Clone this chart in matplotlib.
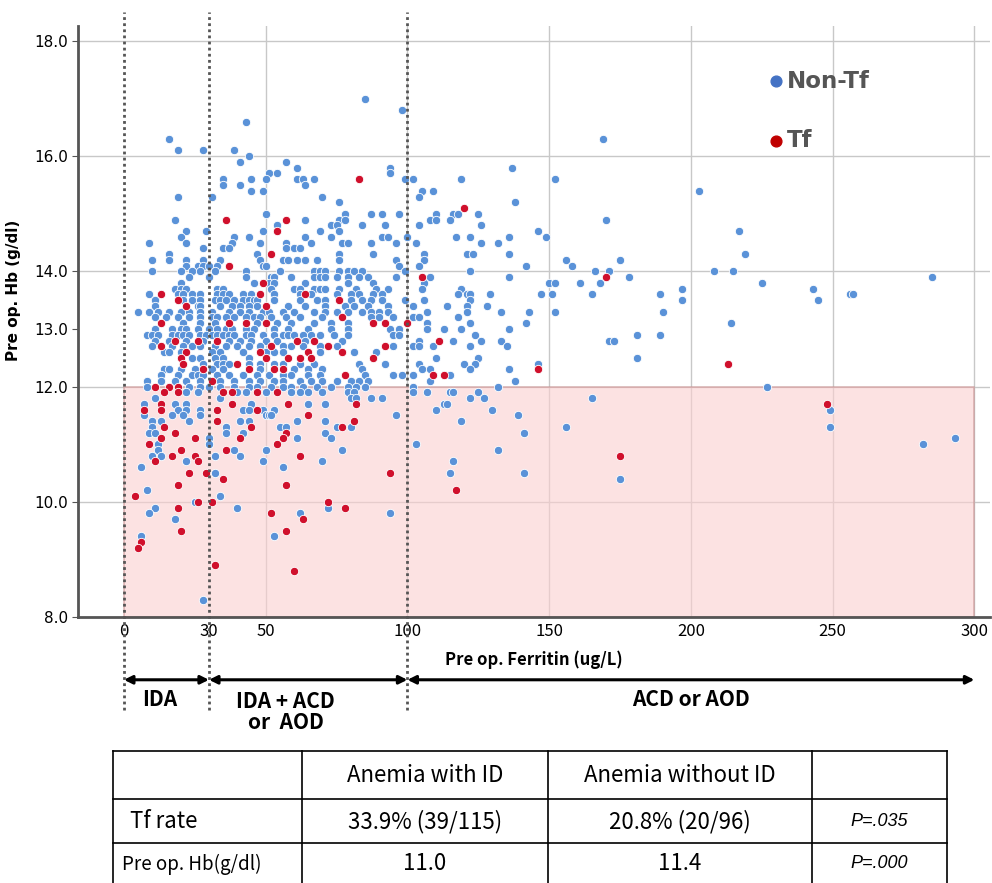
import numpy as np
import matplotlib
matplotlib.use("Agg")
import matplotlib.pyplot as plt

# Non-Tf patients: (pre op ferritin, pre op Hb)
non_tf = [
    (85, 17.0), (98, 16.8), (43, 16.6), (16, 16.3), (169, 16.3),
    (19, 16.1), (28, 16.1), (39, 16.1), (44, 16.0), (41, 15.9), (57, 15.9),
    (61, 15.8), (94, 15.8), (137, 15.8), (51, 15.7), (54, 15.7), (94, 15.7),
    (35, 15.6), (45, 15.6), (50, 15.6), (61, 15.6), (63, 15.6), (67, 15.6), (99, 15.6), (102, 15.6), (119, 15.6), (152, 15.6),
    (35, 15.5), (41, 15.5), (64, 15.5),
    (45, 15.4), (49, 15.4), (105, 15.4), (109, 15.4), (203, 15.4),
    (19, 15.3), (31, 15.3), (70, 15.3), (104, 15.3), (76, 15.2), (138, 15.2),
    (50, 15.0), (78, 15.0), (87, 15.0), (91, 15.0), (97, 15.0), (110, 15.0), (116, 15.0), (118, 15.0), (125, 15.0),
    (18, 14.9), (64, 14.9), (76, 14.9), (78, 14.9), (108, 14.9), (110, 14.9), (115, 14.9), (170, 14.9),
    (54, 14.8), (73, 14.8), (75, 14.8), (84, 14.8), (92, 14.8), (104, 14.8), (126, 14.8),
    (22, 14.7), (29, 14.7), (49, 14.7), (69, 14.7), (76, 14.7), (146, 14.7), (217, 14.7),
    (20, 14.6), (39, 14.6), (44, 14.6), (64, 14.6), (73, 14.6), (91, 14.6), (93, 14.6), (100, 14.6), (117, 14.6), (122, 14.6), (136, 14.6), (149, 14.6),
    (9, 14.5), (22, 14.5), (38, 14.5), (48, 14.5), (57, 14.5), (66, 14.5), (77, 14.5), (79, 14.5), (87, 14.5), (96, 14.5), (103, 14.5), (126, 14.5), (132, 14.5),
    (28, 14.4), (35, 14.4), (37, 14.4), (57, 14.4), (60, 14.4), (62, 14.4),
    (16, 14.3), (47, 14.3), (76, 14.3), (88, 14.3), (106, 14.3), (121, 14.3), (123, 14.3), (136, 14.3), (219, 14.3),
    (10, 14.2), (16, 14.2), (22, 14.2), (28, 14.2), (34, 14.2), (48, 14.2), (56, 14.2), (58, 14.2), (61, 14.2), (64, 14.2), (68, 14.2), (76, 14.2), (96, 14.2), (106, 14.2), (156, 14.2), (175, 14.2),
    (22, 14.1), (26, 14.1), (28, 14.1), (30, 14.1), (33, 14.1), (49, 14.1), (50, 14.1), (97, 14.1), (104, 14.1), (142, 14.1), (158, 14.1),
    (10, 14.0), (20, 14.0), (24, 14.0), (27, 14.0), (32, 14.0), (43, 14.0), (55, 14.0), (67, 14.0), (69, 14.0), (71, 14.0), (76, 14.0), (79, 14.0), (81, 14.0), (84, 14.0), (99, 14.0), (122, 14.0), (166, 14.0), (171, 14.0), (208, 14.0), (215, 14.0),
    (23, 13.9), (30, 13.9), (43, 13.9), (52, 13.9), (53, 13.9), (59, 13.9), (67, 13.9), (69, 13.9), (71, 13.9), (75, 13.9), (79, 13.9), (83, 13.9), (86, 13.9), (96, 13.9), (108, 13.9), (136, 13.9), (178, 13.9), (285, 13.9),
    (20, 13.8), (46, 13.8), (51, 13.8), (53, 13.8), (64, 13.8), (79, 13.8), (88, 13.8), (106, 13.8), (150, 13.8), (152, 13.8), (161, 13.8), (168, 13.8), (225, 13.8),
    (18, 13.7), (20, 13.7), (22, 13.7), (33, 13.7), (35, 13.7), (52, 13.7), (60, 13.7), (62, 13.7), (67, 13.7), (69, 13.7), (71, 13.7), (76, 13.7), (82, 13.7), (89, 13.7), (93, 13.7), (105, 13.7), (119, 13.7), (197, 13.7), (243, 13.7),
    (9, 13.6), (19, 13.6), (21, 13.6), (24, 13.6), (27, 13.6), (33, 13.6), (35, 13.6), (37, 13.6), (42, 13.6), (45, 13.6), (53, 13.6), (62, 13.6), (66, 13.6), (75, 13.6), (80, 13.6), (83, 13.6), (88, 13.6), (91, 13.6),
    (118, 13.6), (121, 13.6), (122, 13.6), (129, 13.6), (147, 13.6), (151, 13.6), (165, 13.6), (189, 13.6), (256, 13.6), (257, 13.6),
    (11, 13.5), (21, 13.5), (24, 13.5), (27, 13.5), (32, 13.5), (34, 13.5), (36, 13.5), (39, 13.5), (42, 13.5), (44, 13.5), (46, 13.5), (47, 13.5), (53, 13.5), (62, 13.5), (68, 13.5), (71, 13.5),
    (80, 13.5), (84, 13.5), (87, 13.5), (91, 13.5), (99, 13.5), (106, 13.5), (122, 13.5), (197, 13.5), (245, 13.5),
    (11, 13.4), (26, 13.4), (27, 13.4), (34, 13.4), (38, 13.4), (41, 13.4), (44, 13.4), (47, 13.4), (50, 13.4), (58, 13.4), (64, 13.4), (71, 13.4), (78, 13.4), (81, 13.4), (86, 13.4), (93, 13.4),
    (102, 13.4), (114, 13.4), (121, 13.4), (128, 13.4),
    (5, 13.3), (9, 13.3), (12, 13.3), (16, 13.3), (20, 13.3), (23, 13.3), (27, 13.3), (31, 13.3), (37, 13.3), (41, 13.3), (44, 13.3), (49, 13.3), (51, 13.3), (56, 13.3), (60, 13.3), (67, 13.3),
    (71, 13.3), (75, 13.3), (79, 13.3), (84, 13.3), (87, 13.3), (90, 13.3), (93, 13.3), (107, 13.3), (121, 13.3), (133, 13.3), (143, 13.3), (152, 13.3), (190, 13.3),
    (11, 13.2), (15, 13.2), (19, 13.2), (23, 13.2), (27, 13.2), (31, 13.2), (33, 13.2), (36, 13.2), (39, 13.2), (43, 13.2), (46, 13.2), (48, 13.2), (52, 13.2), (57, 13.2), (62, 13.2), (70, 13.2),
    (87, 13.2), (90, 13.2), (95, 13.2), (102, 13.2), (104, 13.2), (118, 13.2),
    (21, 13.1), (27, 13.1), (32, 13.1), (47, 13.1), (54, 13.1), (59, 13.1), (67, 13.1), (73, 13.1), (79, 13.1), (107, 13.1), (122, 13.1), (142, 13.1), (214, 13.1),
    (11, 13.0), (17, 13.0), (20, 13.0), (22, 13.0), (26, 13.0), (30, 13.0), (33, 13.0), (36, 13.0), (38, 13.0), (43, 13.0), (46, 13.0), (53, 13.0), (58, 13.0), (65, 13.0), (73, 13.0), (79, 13.0),
    (94, 13.0), (97, 13.0), (107, 13.0), (113, 13.0), (119, 13.0), (136, 13.0),
    (8, 12.9), (10, 12.9), (12, 12.9), (17, 12.9), (19, 12.9), (21, 12.9), (23, 12.9), (27, 12.9), (29, 12.9), (31, 12.9), (33, 12.9), (35, 12.9), (37, 12.9), (39, 12.9), (43, 12.9), (45, 12.9),
    (49, 12.9), (53, 12.9), (56, 12.9), (58, 12.9), (60, 12.9), (63, 12.9), (66, 12.9), (69, 12.9), (74, 12.9), (79, 12.9), (95, 12.9), (97, 12.9), (124, 12.9), (181, 12.9), (189, 12.9),
    (11, 12.8), (16, 12.8), (22, 12.8), (28, 12.8), (37, 12.8), (41, 12.8), (45, 12.8), (50, 12.8), (54, 12.8), (64, 12.8), (77, 12.8), (104, 12.8), (116, 12.8), (126, 12.8), (133, 12.8), (171, 12.8), (173, 12.8),
    (10, 12.7), (17, 12.7), (21, 12.7), (24, 12.7), (27, 12.7), (32, 12.7), (36, 12.7), (40, 12.7), (44, 12.7), (48, 12.7), (56, 12.7), (59, 12.7), (63, 12.7), (69, 12.7), (75, 12.7), (95, 12.7),
    (102, 12.7), (104, 12.7), (109, 12.7), (122, 12.7), (135, 12.7),
    (14, 12.6), (16, 12.6), (20, 12.6), (31, 12.6), (34, 12.6), (42, 12.6), (50, 12.6), (53, 12.6), (56, 12.6), (69, 12.6), (81, 12.6), (89, 12.6),
    (24, 12.5), (27, 12.5), (32, 12.5), (35, 12.5), (44, 12.5), (110, 12.5), (125, 12.5), (181, 12.5),
    (28, 12.4), (33, 12.4), (35, 12.4), (37, 12.4), (44, 12.4), (48, 12.4), (53, 12.4), (56, 12.4), (62, 12.4), (67, 12.4), (83, 12.4), (92, 12.4), (104, 12.4), (120, 12.4), (124, 12.4), (146, 12.4),
    (14, 12.3), (16, 12.3), (20, 12.3), (25, 12.3), (31, 12.3), (35, 12.3), (48, 12.3), (60, 12.3), (65, 12.3), (70, 12.3), (84, 12.3), (105, 12.3), (108, 12.3), (122, 12.3), (136, 12.3),
    (13, 12.2), (19, 12.2), (24, 12.2), (26, 12.2), (28, 12.2), (33, 12.2), (37, 12.2), (42, 12.2), (47, 12.2), (51, 12.2), (56, 12.2), (59, 12.2), (65, 12.2), (69, 12.2), (85, 12.2), (95, 12.2),
    (98, 12.2), (102, 12.2), (115, 12.2),
    (8, 12.1), (13, 12.1), (18, 12.1), (22, 12.1), (27, 12.1), (34, 12.1), (39, 12.1), (44, 12.1), (48, 12.1), (53, 12.1), (56, 12.1), (62, 12.1), (66, 12.1), (70, 12.1), (75, 12.1), (80, 12.1),
    (83, 12.1), (86, 12.1), (108, 12.1), (138, 12.1),
    (8, 12.0), (23, 12.0), (27, 12.0), (30, 12.0), (34, 12.0), (39, 12.0), (44, 12.0), (47, 12.0), (52, 12.0), (56, 12.0), (59, 12.0), (63, 12.0), (68, 12.0), (73, 12.0), (79, 12.0), (82, 12.0),
    (85, 12.0), (102, 12.0), (132, 12.0), (227, 12.0),
    (22, 11.9), (26, 11.9), (40, 11.9), (43, 11.9), (50, 11.9), (59, 11.9), (62, 11.9), (65, 11.9), (70, 11.9), (79, 11.9), (81, 11.9), (102, 11.9), (107, 11.9), (115, 11.9), (116, 11.9), (125, 11.9),
    (11, 11.8), (34, 11.8), (80, 11.8), (82, 11.8), (87, 11.8), (91, 11.8), (122, 11.8), (127, 11.8), (165, 11.8),
    (7, 11.7), (18, 11.7), (22, 11.7), (45, 11.7), (65, 11.7), (71, 11.7), (113, 11.7), (114, 11.7),
    (19, 11.6), (22, 11.6), (27, 11.6), (42, 11.6), (44, 11.6), (49, 11.6), (53, 11.6), (110, 11.6), (130, 11.6), (249, 11.6),
    (7, 11.5), (17, 11.5), (21, 11.5), (27, 11.5), (50, 11.5), (51, 11.5), (52, 11.5), (96, 11.5), (139, 11.5),
    (10, 11.4), (13, 11.4), (23, 11.4), (41, 11.4), (44, 11.4), (61, 11.4), (71, 11.4), (119, 11.4),
    (10, 11.3), (36, 11.3), (55, 11.3), (57, 11.3), (75, 11.3), (80, 11.3), (156, 11.3), (249, 11.3),
    (9, 11.2), (11, 11.2), (36, 11.2), (42, 11.2), (71, 11.2), (141, 11.2),
    (30, 11.1), (61, 11.1), (73, 11.1), (293, 11.1),
    (12, 11.0), (30, 11.0), (103, 11.0), (282, 11.0),
    (12, 10.9), (39, 10.9), (50, 10.9), (77, 10.9), (132, 10.9),
    (10, 10.8), (13, 10.8), (32, 10.8), (41, 10.8),
    (22, 10.7), (49, 10.7), (70, 10.7), (116, 10.7),
    (6, 10.6), (56, 10.6), (32, 10.5), (115, 10.5), (141, 10.5), (175, 10.4),
    (8, 10.2), (34, 10.1), (25, 10.0), (11, 9.9), (40, 9.9), (72, 9.9),
    (9, 9.8), (62, 9.8), (94, 9.8), (18, 9.7), (6, 9.4), (53, 9.4), (28, 8.3),
]

# Tf patients
tf = [
    (83, 15.6), (120, 15.1), (36, 14.9), (57, 14.9), (54, 14.7), (52, 14.3), (37, 14.1),
    (105, 13.9), (170, 13.9), (49, 13.8), (13, 13.6), (48, 13.6), (64, 13.6),
    (19, 13.5), (76, 13.5), (22, 13.4), (50, 13.4), (77, 13.2),
    (13, 13.1), (37, 13.1), (43, 13.1), (50, 13.1), (88, 13.1), (92, 13.1), (100, 13.1),
    (18, 12.8), (26, 12.8), (33, 12.8), (61, 12.8), (67, 12.8), (111, 12.8),
    (13, 12.7), (52, 12.7), (72, 12.7), (92, 12.7),
    (22, 12.6), (48, 12.6), (65, 12.6), (77, 12.6),
    (20, 12.5), (50, 12.5), (58, 12.5), (62, 12.5), (66, 12.5), (88, 12.5),
    (21, 12.4), (40, 12.4), (213, 12.4), (28, 12.3), (44, 12.3), (53, 12.3), (56, 12.3), (146, 12.3),
    (78, 12.2), (109, 12.2), (113, 12.2), (31, 12.1),
    (11, 12.0), (16, 12.0), (19, 12.0),
    (14, 11.9), (19, 11.9), (35, 11.9), (38, 11.9), (47, 11.9), (54, 11.9),
    (13, 11.7), (38, 11.7), (58, 11.7), (82, 11.7), (248, 11.7),
    (7, 11.6), (13, 11.6), (33, 11.6), (47, 11.6), (65, 11.5), (33, 11.4), (81, 11.4),
    (14, 11.3), (45, 11.3), (77, 11.3), (18, 11.2), (57, 11.2),
    (13, 11.1), (25, 11.1), (41, 11.1), (56, 11.1), (9, 11.0), (54, 11.0),
    (20, 10.9), (36, 10.9), (17, 10.8), (25, 10.8), (62, 10.8), (175, 10.8),
    (11, 10.7), (26, 10.7), (23, 10.5), (29, 10.5), (94, 10.5), (35, 10.4),
    (19, 10.3), (57, 10.3), (117, 10.2), (4, 10.1),
    (26, 10.0), (31, 10.0), (72, 10.0), (19, 9.9), (78, 9.9), (52, 9.8), (63, 9.7),
    (20, 9.5), (57, 9.5), (6, 9.3), (5, 9.2), (32, 8.9), (60, 8.8),
]

x_ticks = [0, 30, 50, 100, 150, 200, 250, 300]
y_ticks = [8, 10, 12, 13, 14, 16, 18]
cutoffs = [0, 30, 100]
regions = [(0, 30, "IDA"), (30, 100, "IDA + ACD\nor  AOD"), (100, 300, "ACD or AOD")]

table_header = ["", "Anemia with ID", "Anemia without ID", ""]
table_rows = [
    ["Tf rate", "33.9% (39/115)", "20.8% (20/96)", "P=.035"],
    ["Pre op. Hb(g/dl)", "11.0", "11.4", "P=.000"],
]

kr = ["Noto Sans CJK KR", "DejaVu Sans"]

blue = "#5a92d8"
red = "#d0102c"
dark = "#555555"

fig = plt.figure(figsize=(9.92, 8.83), dpi=100)
W, H = 992, 883
ax = fig.add_axes([78 / W, 1 - 617 / H, (990 - 78) / W, (617 - 26) / H])

ax.set_xlim(-16.2, 305.5)
ax.set_ylim(8.0, 18.26)

# anemia band
ax.axhspan(8, 12, xmin=(0 + 16.2) / 321.7, xmax=(300 + 16.2) / 321.7,
           facecolor="#fbd0d0", edgecolor="#c98f8f", lw=1.2, alpha=0.6, zorder=1)

for g in [10, 12, 14, 16, 18]:
    ax.axhline(g, color="#c8c8c8", lw=1.0, zorder=0.5)
for g in [50, 100, 150, 200, 250, 300]:
    ax.axvline(g, color="#c8c8c8", lw=1.0, zorder=0.5)

nt = np.array(non_tf)
t = np.array(tf)
ax.scatter(nt[:, 0], nt[:, 1], s=36, c=blue, edgecolors="white", linewidths=0.6, zorder=3)
ax.scatter(t[:, 0], t[:, 1], s=36, c=red, edgecolors="white", linewidths=0.6, zorder=4)

for s in ["top", "right"]:
    ax.spines[s].set_visible(False)
for s in ["left", "bottom"]:
    ax.spines[s].set_color(dark)
    ax.spines[s].set_linewidth(2)

ax.set_xticks(x_ticks)
ax.set_xticklabels([str(v) for v in x_ticks], fontsize=12, family=kr)
ax.set_yticks(y_ticks)
ax.set_yticklabels([f"{v:.1f}" for v in y_ticks], fontsize=11)
ax.tick_params(axis="x", length=0, pad=4)
ax.tick_params(axis="y", length=4, color=dark, pad=3)

ax.set_xlabel("Pre op. Ferritin (ug/L)", fontsize=12, fontweight="bold", family=kr, labelpad=8)
ax.set_ylabel("Pre op. Hb (g/dl)", fontsize=11, fontweight="bold")
ax.yaxis.set_label_coords(-0.063, 0.553)

# legend
ax.scatter([230], [17.3], s=60, c="#4472c4", zorder=5, clip_on=False)
ax.text(234, 17.3, "Non-Tf", fontsize=16.5, fontweight="bold", color=dark, va="center")
ax.scatter([230], [16.27], s=60, c="#c00000", zorder=5, clip_on=False)
ax.text(234, 16.27, "Tf", fontsize=16.5, fontweight="bold", color=dark, va="center")

# cutoff lines and ranges
for c in cutoffs:
    ax.plot([c, c], [6.39, 18.5], ls=(0, (1, 1.2)), color=dark, lw=2, clip_on=False, zorder=6)

arrow_y = 6.91
for a, b, label in regions:
    ax.annotate("", xy=(a, arrow_y), xytext=(b, arrow_y), annotation_clip=False,
                arrowprops=dict(arrowstyle="<|-|>", color="black", lw=2.2,
                                shrinkA=0, shrinkB=0, mutation_scale=12))
ax.text(12.7, 6.56, regions[0][2], fontsize=15, fontweight="bold", family=kr, ha="center", va="center")
ax.text(57, 6.35, regions[1][2], fontsize=15, fontweight="bold", family=kr, ha="center", va="center",
        linespacing=1.05)
ax.text(200, 6.56, regions[2][2], fontsize=15, fontweight="bold", family=kr, ha="center", va="center")

# table under the chart (pixel coordinates of the figure)
col_edges = [113, 302, 548, 812, 947]
row_edges = [751, 799, 843, 884]
for y in row_edges:
    fig.add_artist(plt.Line2D([col_edges[0] / W, col_edges[-1] / W], [1 - y / H, 1 - y / H],
                              color="black", lw=1.2))
for x in col_edges:
    fig.add_artist(plt.Line2D([x / W, x / W], [1 - row_edges[0] / H, 1 - row_edges[-1] / H],
                              color="black", lw=1.2))

cell_x = [(col_edges[i] + col_edges[i + 1]) / 2 for i in range(4)]
for i, txt in enumerate(table_header):
    fig.text(cell_x[i] / W, 1 - 775 / H, txt, fontsize=16, family=kr, ha="center", va="center")
for r, row in enumerate(table_rows):
    yc = 1 - [822, 864][r] / H
    for i, txt in enumerate(row):
        if i == 0:
            fig.text((130 if r == 0 else 122) / W, yc, txt, fontsize=16 if r == 0 else 13.5,
                     family=kr, ha="left", va="center")
        elif i == 3:
            fig.text(cell_x[i] / W, yc, txt, fontsize=13, family="Liberation Sans", style="italic",
                     ha="center", va="center")
        else:
            fig.text(cell_x[i] / W, yc, txt, fontsize=16, family=kr, ha="center", va="center")

fig.savefig("out.png", dpi=100)
